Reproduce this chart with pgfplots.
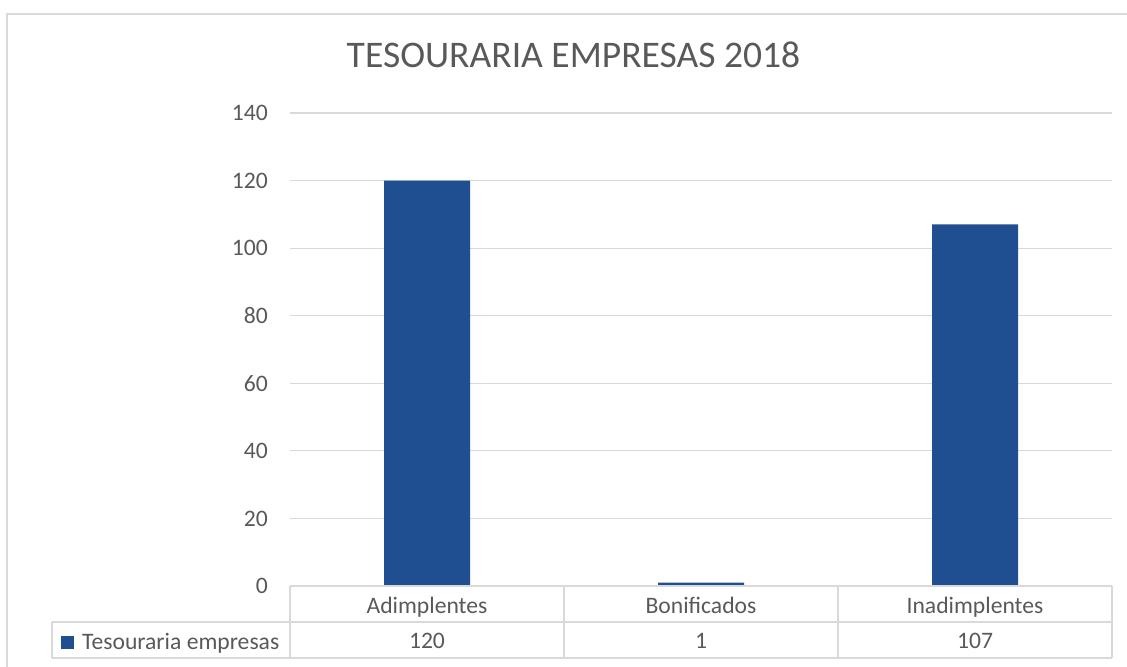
\documentclass[border=0pt]{standalone}
\usepackage{fontspec}
\setmainfont{Carlito}
\usepackage{pgfplots}
\pgfplotsset{compat=1.18}
\definecolor{barblue}{RGB}{31,78,145}
\definecolor{gridgray}{RGB}{217,217,217}
\definecolor{textgray}{RGB}{89,89,89}
\newcommand{\lbl}{\fontsize{23.7}{28}\selectfont}
\begin{document}
\begin{tikzpicture}
\useasboundingbox (0bp,0bp) rectangle (1127bp,667bp);
\draw[gridgray, line width=2bp] (7bp,-5bp) -- (7bp,653bp) -- (1135bp,653bp);
\node[anchor=base, text=textgray, font=\fontsize{37.7}{42}\selectfont, inner sep=0pt] at (573.5bp,599bp) {TESOURARIA EMPRESAS 2018};
\begin{axis}[
  at={(290bp,81bp)}, anchor=south west,
  width=822bp, height=473bp, scale only axis,
  xmin=-0.5, xmax=2.5, ymin=0, ymax=140,
  ytick={0,20,...,140},
  xtick={0,1,2},
  xticklabels={Adimplentes,Bonificados,Inadimplentes},
  extra x ticks={0,1,2},
  extra x tick labels={120,1,107},
  extra x tick style={xticklabel style={yshift=-35bp}},
  axis line style={draw=none},
  major tick length=0pt,
  ymajorgrids,
  grid style={gridgray, line width=1.2bp},
  /pgf/number format/assume math mode=true,
  tick label style={font=\lbl, text=textgray},
  yticklabel style={anchor=east, inner sep=0pt, xshift=-22bp},
  xticklabel style={anchor=base, inner sep=0pt, yshift=-27bp},
  ybar, bar width=86bp,
  clip=false,
  legend style={at={(axis description cs:-0.2786,-0.1195)}, anchor=west, draw=none, fill=none, inner sep=0pt, nodes={inner sep=0pt}, font=\lbl, text=textgray},
  legend image code/.code={\fill[#1] (0bp,-6.5bp) rectangle (13bp,6.5bp); \path (21bp,0bp);},
]
\addplot[fill=barblue, draw=none] coordinates {(0,120) (1,1) (2,107)};
\addlegendentry{Tesouraria empresas}
\end{axis}
\begin{scope}[gridgray, line width=1.2bp]
\draw (290bp,81bp) -- (1112bp,81bp);
\draw (52bp,45bp) -- (1112bp,45bp);
\draw (52bp,9bp) -- (1112bp,9bp);
\draw (290bp,81bp) -- (290bp,9bp);
\draw (564bp,81bp) -- (564bp,9bp);
\draw (838bp,81bp) -- (838bp,9bp);
\draw (1112bp,81bp) -- (1112bp,9bp);
\draw (52bp,45bp) -- (52bp,9bp);
\end{scope}
\end{tikzpicture}
\end{document}
